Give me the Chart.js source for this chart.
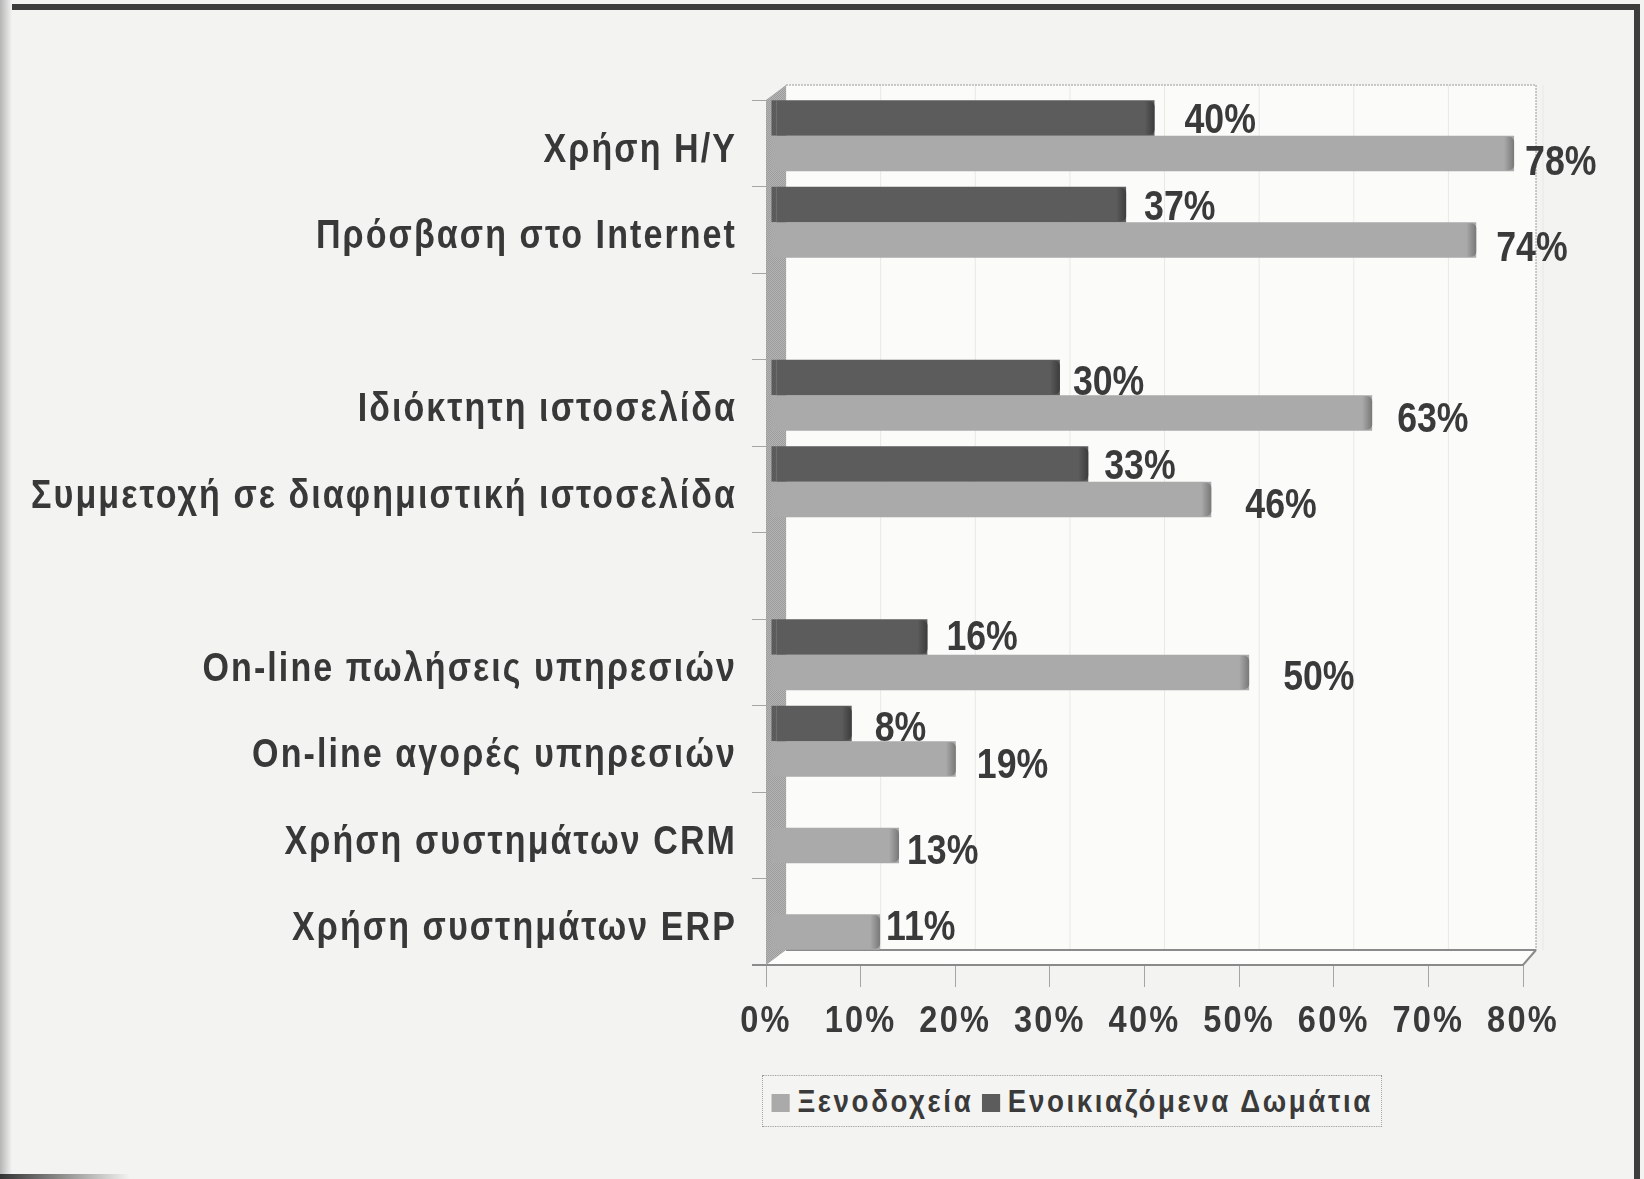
<!DOCTYPE html>
<html lang="el">
<head>
  <meta charset="UTF-8" />
  <title>Χρήση τεχνολογιών</title>
  <script src="https://cdn.jsdelivr.net/npm/chart.js"></script>
  <style>
    html, body { margin: 0; padding: 0; background: #f3f3f1; }
    #wrap { position: relative; width: 1644px; height: 1179px; overflow: hidden; }
    #frame {
      position: absolute; left: -10px; top: 4px; width: 1644px; height: 1190px;
      border-top: 6px solid #3c3c3c; border-right: 6px solid #3c3c3c;
    }
    /* dark scan edges on the left and the bottom left */
    #edgeL { position: absolute; left: 0; top: 0; width: 12px; height: 1179px; background: linear-gradient(to right, #b5b5b5, #f3f3f1); }
    #edgeB { position: absolute; left: 0; top: 1174px; width: 130px; height: 5px; background: linear-gradient(to right, #333, #f3f3f1); }
    #legend {
      position: absolute; left: 762px; top: 1075px; height: 50px; padding: 0 10px;
      display: flex; align-items: center; gap: 10px; white-space: nowrap;
      border: 1px dotted #999; background: #f4f4f2;
      font: bold 32px 'Liberation Sans', Arial, sans-serif; color: #3a3a3a; letter-spacing: 3px;
      transform: scaleX(0.866); transform-origin: left center;
    }
    #legend i { display: inline-block; width: 21px; height: 18px; margin-right: -3px; }
  </style>
</head>
<body>
<div id="wrap">
  <canvas id="chart" width="1644" height="1179"></canvas>
  <div id="frame"></div>
  <div id="edgeL"></div>
  <div id="edgeB"></div>
  <div id="legend"></div>
</div>
<script>
const categories = ['Χρήση Η/Υ', 'Πρόσβαση στο Internet', '', 'Ιδιόκτητη ιστοσελίδα', 'Συμμετοχή σε διαφημιστική ιστοσελίδα', '', 'On-line πωλήσεις υπηρεσιών', 'On-line αγορές υπηρεσιών', 'Χρήση συστημάτων CRM', 'Χρήση συστημάτων ERP'];
const hotels = [78, 74, null, 63, 46, null, 50, 19, 13, 11];
const rooms = [40, 37, null, 30, 33, null, 16, 8, null, null];
const xTicks = [0, 10, 20, 30, 40, 50, 60, 70, 80];

const FONT = "'Liberation Sans', Arial, sans-serif";
const DEPTH_X = 20, DEPTH_Y = 15;

// the value labels were placed by hand in the original: [dx, dy] per category
const roomNudge = [[12, 0], [0, 1], null, [-5, 3], [-2, 0], null, [1, -2], [5, 3]];
const hotelNudge = [[-7, 7], [2, 6], null, [7, 4], [16, 4], null, [16, 3], [3, 4], [-10, 4], [-12, -7]];

// halftone look of the scan
function dots(a, b) {
  const c = document.createElement('canvas');
  c.width = c.height = 2;
  const g = c.getContext('2d');
  g.fillStyle = a; g.fillRect(0, 0, 2, 2);
  g.fillStyle = b; g.fillRect(0, 0, 1, 1); g.fillRect(1, 1, 1, 1);
  return g.createPattern(c, 'repeat');
}

// the original type is tall and narrow, no such font here so squeeze it
function narrowText(ctx, str, x, y, size, squeeze, spacing, align, color) {
  ctx.save();
  ctx.font = 'bold ' + size + 'px ' + FONT;
  ctx.letterSpacing = spacing + 'px';
  ctx.fillStyle = color;
  ctx.textAlign = align;
  ctx.textBaseline = 'middle';
  ctx.translate(x, y);
  ctx.scale(squeeze, 1);
  ctx.fillText(str, 0, 0);
  ctx.restore();
}

const roomFill = dots('#666666', '#525252');
const hotelFill = dots('#b6b6b6', '#9e9e9e');

const box3d = {
  id: 'box3d',
  beforeDatasetsDraw(chart) {
    const { ctx, chartArea: a, scales: { x } } = chart;
    const backRight = a.right + DEPTH_X - 7;
    ctx.save();
    // back wall
    ctx.fillStyle = '#fbfbfa';
    ctx.fillRect(a.left + DEPTH_X, a.top - DEPTH_Y, backRight - a.left - DEPTH_X, a.height);
    // gridlines on the wall
    ctx.strokeStyle = '#e8e8e6'; ctx.lineWidth = 1;
    xTicks.forEach(t => {
      const px = x.getPixelForValue(t) + DEPTH_X;
      ctx.beginPath(); ctx.moveTo(px, a.top - DEPTH_Y); ctx.lineTo(px, a.bottom - DEPTH_Y); ctx.stroke();
    });
    // wall outline
    ctx.strokeStyle = '#9a9a9a'; ctx.setLineDash([2, 1]);
    ctx.beginPath();
    ctx.moveTo(a.left + DEPTH_X, a.top - DEPTH_Y);
    ctx.lineTo(backRight, a.top - DEPTH_Y);
    ctx.lineTo(backRight, a.bottom - DEPTH_Y);
    ctx.stroke();
    ctx.setLineDash([]);
    // floor
    ctx.fillStyle = '#fdfdfc';
    ctx.beginPath();
    ctx.moveTo(a.left, a.bottom);
    ctx.lineTo(a.left + DEPTH_X, a.bottom - DEPTH_Y);
    ctx.lineTo(backRight, a.bottom - DEPTH_Y);
    ctx.lineTo(a.right, a.bottom);
    ctx.closePath(); ctx.fill();
    ctx.strokeStyle = '#8a8a8a'; ctx.lineWidth = 2;
    ctx.beginPath(); ctx.moveTo(a.left + DEPTH_X, a.bottom - DEPTH_Y); ctx.lineTo(backRight, a.bottom - DEPTH_Y); ctx.stroke();
    ctx.beginPath(); ctx.moveTo(a.left - 14, a.bottom); ctx.lineTo(a.right, a.bottom); ctx.lineTo(backRight, a.bottom - DEPTH_Y); ctx.stroke();
    // left wall
    ctx.fillStyle = dots('#b4b4b4', '#9c9c9c');
    ctx.beginPath();
    ctx.moveTo(a.left, a.top);
    ctx.lineTo(a.left + DEPTH_X, a.top - DEPTH_Y);
    ctx.lineTo(a.left + DEPTH_X, a.bottom - DEPTH_Y);
    ctx.lineTo(a.left, a.bottom);
    ctx.closePath(); ctx.fill();
    ctx.restore();
    // bars stand in the middle of the depth
    ctx.save();
    ctx.translate(DEPTH_X / 2, -DEPTH_Y / 2);
  },
  afterDatasetsDraw(chart) {
    const { ctx } = chart;
    chart.data.datasets.forEach((ds, i) => {
      chart.getDatasetMeta(i).data.forEach((bar, j) => {
        if (ds.data[j] == null) return;
        const top = bar.y - bar.height / 2;
        // bar runs into the wall
        ctx.fillStyle = ds.backgroundColor;
        ctx.fillRect(bar.base - 5, top, 5, bar.height);
        // rounded end
        const g = ctx.createLinearGradient(bar.x - 10, 0, bar.x, 0);
        g.addColorStop(0, i === 0 ? 'rgba(60,60,60,0)' : 'rgba(120,120,120,0)');
        g.addColorStop(1, i === 0 ? 'rgb(60,60,60)' : 'rgb(120,120,120)');
        ctx.fillStyle = g;
        ctx.beginPath();
        ctx.roundRect(bar.x - 10, top + 1, 10, bar.height - 2, [0, 5, 5, 0]);
        ctx.fill();
      });
    });
    ctx.restore();
    // value labels
    chart.data.datasets.forEach((ds, i) => {
      const nudge = i === 0 ? roomNudge : hotelNudge;
      chart.getDatasetMeta(i).data.forEach((bar, j) => {
        if (ds.data[j] == null) return;
        const [dx, dy] = nudge[j];
        narrowText(ctx, ds.data[j] + '%', bar.x + DEPTH_X / 2 + 18 + dx, bar.y - DEPTH_Y / 2 + 3 + dy, 42, 0.85, 0, 'left', '#3a3a3a');
      });
    });
  },
  afterDraw(chart) {
    const { ctx, chartArea: a, scales: { x, y } } = chart;
    // axis labels, placed from the scales
    categories.forEach((c, i) => {
      if (c) narrowText(ctx, c, a.left - 29, y.getPixelForTick(i) + 7, 41, 0.83, 2.5, 'right', '#383838');
    });
    xTicks.forEach(t => {
      narrowText(ctx, t + '%', x.getPixelForValue(t), a.bottom + 57, 37, 0.88, 2.5, 'center', '#3a3a3a');
    });
  }
};

const chart = new Chart(document.getElementById('chart'), {
  type: 'bar',
  data: {
    labels: categories,
    datasets: [
      { label: 'Ενοικιαζόμενα Δωμάτια', data: rooms, backgroundColor: roomFill },
      { label: 'Ξενοδοχεία', data: hotels, backgroundColor: hotelFill }
    ]
  },
  options: {
    indexAxis: 'y',
    responsive: false,
    animation: false,
    layout: { padding: { top: 100, right: 121, bottom: 0, left: 0 } },
    datasets: { bar: { categoryPercentage: 0.82, barPercentage: 1 } },
    plugins: { legend: { display: false }, tooltip: { enabled: false } },
    scales: {
      x: {
        min: 0, max: 80,
        afterFit(s) { s.height = 214; },
        afterBuildTicks(s) { s.ticks = xTicks.map(v => ({ value: v })); },
        border: { display: false },
        grid: { drawOnChartArea: false, tickLength: 22, color: '#a5a5a5' },
        ticks: { display: false }
      },
      y: {
        afterFit(s) { s.width = 766; },
        border: { display: false },
        grid: { drawOnChartArea: false, tickLength: 14, color: '#a5a5a5' },
        ticks: { display: false }
      }
    }
  },
  plugins: [box3d]
});

// legend in the same order as the original
const legend = document.getElementById('legend');
[[1, '#aaaaaa'], [0, '#5c5c5c']].forEach(([i, col]) => {
  const s = document.createElement('span');
  s.innerHTML = '<i style="background:' + col + '"></i> ' + chart.data.datasets[i].label;
  legend.appendChild(s);
});
</script>
</body>
</html>
